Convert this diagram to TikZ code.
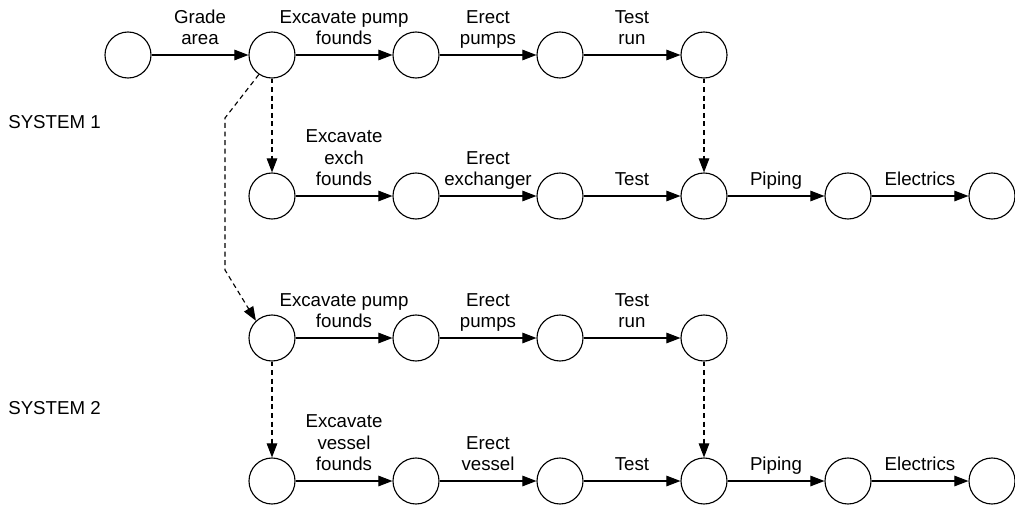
\documentclass[tikz,border=0pt]{standalone}
\usepackage{fontspec}
\setmainfont{Liberation Sans}
\usepackage{tikz}
\usetikzlibrary{arrows.meta, positioning, calc}
\tikzstyle{event} = [circle, draw, line width=0.8pt, minimum size=1.15cm, inner sep=0pt]
\tikzstyle{arrow} = [-{Triangle[length=10pt, width=7.5pt]}, line width=0.8pt]
\tikzstyle{dasharrow} = [-{Triangle[length=10pt, width=7.5pt]}, line width=0.8pt, dash pattern=on 3.5pt off 2.6pt]
\tikzstyle{act} = [midway, anchor=south, yshift=0.25cm, align=center, inner sep=0pt, text depth=0pt, font=\fontsize{13.3}{15.2}\selectfont]
\tikzstyle{syslabel} = [anchor=base west, inner sep=0pt, font=\fontsize{13.3}{15.2}\selectfont]

\begin{document}
\begin{tikzpicture}
    \useasboundingbox (0,0) rectangle (25.375,12.6);

    % System labels
    \node[syslabel] (sys1) at (0.2, 9.4) {SYSTEM 1};
    \node[syslabel] (sys2) at (0.2, 2.25) {SYSTEM 2};

    % System 1, pumps
    \node[event] (a0) at (3.2, 11.225) {};
    \node[event] (a1) at (6.8, 11.225) {};
    \node[event] (a2) at (10.4, 11.225) {};
    \node[event] (a3) at (14.0, 11.225) {};
    \node[event] (a4) at (17.6, 11.225) {};
    \draw[arrow] (a0) -- node[act] (la1) {Grade\\area} (a1);
    \draw[arrow] (a1) -- node[act] (la2) {Excavate pump\\founds} (a2);
    \draw[arrow] (a2) -- node[act] (la3) {Erect\\pumps} (a3);
    \draw[arrow] (a3) -- node[act] (la4) {Test\\run} (a4);

    % System 1, exchanger
    \node[event] (b1) at (6.8, 7.7) {};
    \node[event] (b2) at (10.4, 7.7) {};
    \node[event] (b3) at (14.0, 7.7) {};
    \node[event] (b4) at (17.6, 7.7) {};
    \node[event] (b5) at (21.2, 7.7) {};
    \node[event] (b6) at (24.8, 7.7) {};
    \draw[arrow] (b1) -- node[act] (lb1) {Excavate\\exch\\founds} (b2);
    \draw[arrow] (b2) -- node[act] (lb2) {Erect\\exchanger} (b3);
    \draw[arrow] (b3) -- node[act] (lb3) {Test} (b4);
    \draw[arrow] (b4) -- node[act] (lb4) {Piping} (b5);
    \draw[arrow] (b5) -- node[act] (lb5) {Electrics} (b6);

    % System 2, pumps
    \node[event] (c1) at (6.8, 4.15) {};
    \node[event] (c2) at (10.4, 4.15) {};
    \node[event] (c3) at (14.0, 4.15) {};
    \node[event] (c4) at (17.6, 4.15) {};
    \draw[arrow] (c1) -- node[act] (lc1) {Excavate pump\\founds} (c2);
    \draw[arrow] (c2) -- node[act] (lc2) {Erect\\pumps} (c3);
    \draw[arrow] (c3) -- node[act] (lc3) {Test\\run} (c4);

    % System 2, vessel
    \node[event] (d1) at (6.8, 0.575) {};
    \node[event] (d2) at (10.4, 0.575) {};
    \node[event] (d3) at (14.0, 0.575) {};
    \node[event] (d4) at (17.6, 0.575) {};
    \node[event] (d5) at (21.2, 0.575) {};
    \node[event] (d6) at (24.8, 0.575) {};
    \draw[arrow] (d1) -- node[act] (ld1) {Excavate\\vessel\\founds} (d2);
    \draw[arrow] (d2) -- node[act] (ld2) {Erect\\vessel} (d3);
    \draw[arrow] (d3) -- node[act] (ld3) {Test} (d4);
    \draw[arrow] (d4) -- node[act] (ld4) {Piping} (d5);
    \draw[arrow] (d5) -- node[act] (ld5) {Electrics} (d6);

    % Dummy activities
    \coordinate (bendtop) at (5.625, 9.65);
    \coordinate (bendbot) at (5.625, 5.85);
    \draw[dasharrow] (a1) -- (b1);
    \draw[dasharrow] (a4) -- (b4);
    \draw[dasharrow] (a1.-124) -- (bendtop) -- (bendbot) -- (c1.133);
    \draw[dasharrow] (c1) -- (d1);
    \draw[dasharrow] (c4) -- (d4);
\end{tikzpicture}
\end{document}
